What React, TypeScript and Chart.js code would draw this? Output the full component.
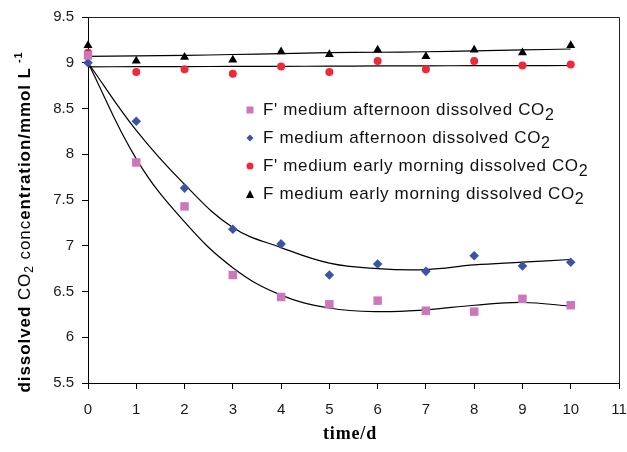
import React, { useEffect, useRef } from 'react';
import { Chart, registerables } from 'chart.js';

Chart.register(...registerables);

// ---- data ----
const days = [0, 1, 2, 3, 4, 5, 6, 7, 8, 9, 10];
const fPrimeAfternoon = [9.08, 7.91, 7.43, 6.68, 6.44, 6.36, 6.40, 6.29, 6.28, 6.42, 6.35];
const fAfternoon = [9.0, 8.36, 7.63, 7.18, 7.02, 6.68, 6.80, 6.72, 6.89, 6.78, 6.82];
const fPrimeMorning = [9.11, 8.90, 8.93, 8.88, 8.96, 8.90, 9.02, 8.93, 9.02, 8.97, 8.98];
const fMorning = [9.19, 9.02, 9.06, 9.03, 9.12, 9.09, 9.14, 9.07, 9.14, 9.11, 9.19];

const trendFPrimeAfternoon = [9.0, 7.95, 7.26, 6.76, 6.46, 6.32, 6.28, 6.30, 6.35, 6.38, 6.34];
const trendFAfternoon = [9.0, 8.26, 7.67, 7.2, 6.98, 6.81, 6.75, 6.74, 6.79, 6.82, 6.85];
const trendFPrimeMorning = [8.955, 8.957, 8.958, 8.96, 8.961, 8.963, 8.965, 8.966, 8.968, 8.969, 8.97];
const trendFMorning = [9.07, 9.075, 9.08, 9.09, 9.1, 9.11, 9.115, 9.12, 9.13, 9.14, 9.15];

const seriesLabels = [
  "F' medium afternoon dissolved CO2",
  'F medium afternoon dissolved CO2',
  "F' medium early morning dissolved CO2",
  'F medium early morning dissolved CO2',
];
const seriesColors = ['#CC77BB', '#3A55A8', '#F0283C', '#000000'];
const seriesShapes = ['square', 'diamond', 'circle', 'triangle'];

const xTitle = 'time/d';
const xMin = 0, xMax = 11, xStep = 1;
const yMin = 5.5, yMax = 9.5, yStep = 0.5;

const SANS = '"Liberation Sans", Arial, Helvetica, sans-serif';
const SERIF = '"Liberation Serif", "Times New Roman", serif';

function drawMarker(ctx: CanvasRenderingContext2D, shape: string, x: number, y: number, s: number, color: string) {
  ctx.fillStyle = color;
  ctx.beginPath();
  if (shape === 'square') {
    ctx.rect(x - s / 2, y - s / 2, s, s);
  } else if (shape === 'diamond') {
    ctx.moveTo(x, y - s / 2);
    ctx.lineTo(x + s / 2, y);
    ctx.lineTo(x, y + s / 2);
    ctx.lineTo(x - s / 2, y);
    ctx.closePath();
  } else if (shape === 'circle') {
    ctx.arc(x, y, s / 2, 0, Math.PI * 2);
  } else {
    ctx.moveTo(x, y - s / 2);
    ctx.lineTo(x + s / 2, y + s / 2);
    ctx.lineTo(x - s / 2, y + s / 2);
    ctx.closePath();
  }
  ctx.fill();
}

type Seg = { t: string; font: string; dy: number };

function segSpacing(ctx: any, segs: Seg[], target: number): number {
  ctx.letterSpacing = '0px';
  let total = 0;
  let chars = 0;
  for (const s of segs) {
    ctx.font = s.font;
    total += ctx.measureText(s.t).width;
    chars += s.t.length;
  }
  return (target - total) / chars;
}

function drawSegs(ctx: any, segs: Seg[], x: number, y: number, sp: number, align: 'left' | 'center') {
  let full = 0;
  for (const s of segs) {
    ctx.font = s.font;
    ctx.letterSpacing = sp.toFixed(2) + 'px';
    full += ctx.measureText(s.t).width;
  }
  let cx = align === 'center' ? x - full / 2 : x;
  ctx.textAlign = 'left';
  ctx.textBaseline = 'middle';
  for (const s of segs) {
    ctx.font = s.font;
    ctx.letterSpacing = sp.toFixed(2) + 'px';
    ctx.fillText(s.t, cx, y + s.dy);
    cx += ctx.measureText(s.t).width;
  }
  ctx.letterSpacing = '0px';
}

const overlay = {
  id: 'overlay',
  afterDraw(chart: any) {
    const ctx = chart.ctx as any;
    const { left, right, top, bottom } = chart.chartArea;
    ctx.save();
    // top + right frame
    ctx.strokeStyle = '#222';
    ctx.lineWidth = 1;
    ctx.beginPath();
    ctx.moveTo(Math.round(left) + 0.5, Math.round(top) + 0.5);
    ctx.lineTo(Math.round(right) + 0.5, Math.round(top) + 0.5);
    ctx.lineTo(Math.round(right) + 0.5, Math.round(bottom) + 0.5);
    ctx.stroke();

    // legend
    const lx = 250, tx = 263, ly0 = 110, lstep = 28;
    const mainFont = `17px ${SANS}`;
    const subFont = `16px ${SANS}`;
    const sp = segSpacing(ctx, [{ t: seriesLabels[0].slice(0, -1), font: mainFont, dy: 0 }], 282);
    seriesLabels.forEach((lab, i) => {
      const y = ly0 + i * lstep;
      drawMarker(ctx, seriesShapes[i], lx, y, seriesShapes[i] === 'triangle' ? 8 : 7, seriesColors[i]);
      ctx.fillStyle = '#111';
      const segs: Seg[] = [
        { t: lab.slice(0, -1), font: mainFont, dy: 0 },
        { t: lab.slice(-1), font: subFont, dy: 6 },
      ];
      drawSegs(ctx, segs, tx, y, sp, 'left');
    });

    // y title
    ctx.save();
    ctx.translate(25, 222);
    ctx.rotate(-Math.PI / 2);
    ctx.fillStyle = '#000';
    const ySegs: Seg[] = [
      { t: 'dissolved ', font: `bold 17px ${SANS}`, dy: 0 },
      { t: 'CO', font: `17px ${SANS}`, dy: 0 },
      { t: '2', font: `12px ${SANS}`, dy: 5 },
      { t: ' conc', font: `17px ${SANS}`, dy: 0 },
      { t: 'entration/mmol L', font: `bold 17px ${SANS}`, dy: 0 },
      { t: ' -1', font: `bold 11px ${SANS}`, dy: -6 },
    ];
    drawSegs(ctx, ySegs, 0, 0, segSpacing(ctx, ySegs, 341), 'center');
    ctx.restore();

    // x title
    ctx.fillStyle = '#000';
    const xSegs: Seg[] = [{ t: xTitle, font: `bold 18px ${SERIF}`, dy: 0 }];
    drawSegs(ctx, xSegs, 350, 434, segSpacing(ctx, xSegs, 54), 'center');
    ctx.restore();
  },
};

export default function App() {
  const ref = useRef<HTMLCanvasElement | null>(null);
  useEffect(() => {
    if (!ref.current) return;
    const pts = (arr: number[]) => days.map((d, i) => ({ x: d, y: arr[i] }));
    const pointSeries = [fPrimeAfternoon, fAfternoon, fPrimeMorning, fMorning];
    const trends = [trendFPrimeAfternoon, trendFAfternoon, trendFPrimeMorning, trendFMorning];
    const pointStyles: any[] = ['rect', 'rectRot', 'circle', 'triangle'];
    const radii = [6, 4.8, 4, 5.2];
    const datasets: any[] = [];
    trends.forEach((t, i) => {
      datasets.push({
        type: 'line',
        label: 'trend ' + i,
        data: pts(t),
        borderColor: '#000',
        borderWidth: 1.2,
        pointRadius: 0,
        tension: 0.4,
        fill: false,
        clip: false,
        order: 2,
      });
    });
    pointSeries.forEach((s, i) => {
      datasets.push({
        type: 'scatter',
        label: seriesLabels[i],
        data: pts(s),
        pointStyle: pointStyles[i],
        pointRadius: radii[i],
        pointBackgroundColor: seriesColors[i],
        pointBorderColor: seriesColors[i],
        pointBorderWidth: 0,
        showLine: false,
        clip: false,
        order: 1,
      });
    });
    const chart = new Chart(ref.current, {
      type: 'scatter',
      data: { datasets },
      options: {
        animation: false,
        responsive: false,
        layout: { padding: { left: 0, right: 8, top: 17, bottom: 29 } },
        plugins: { legend: { display: false }, tooltip: { enabled: false } },
        scales: {
          x: {
            type: 'linear',
            min: xMin,
            max: xMax,
            afterFit: (s: any) => { s.height = 40; s.paddingLeft = 0; s.paddingRight = 0; },
            ticks: { stepSize: xStep, color: '#1a1a1a', font: { size: 15, family: SANS }, padding: 12, callback: (v: any) => String(v) },
            grid: { drawOnChartArea: false, drawTicks: true, tickLength: 6, color: '#000' },
            border: { display: true, color: '#000', width: 1 },
          },
          y: {
            type: 'linear',
            min: yMin,
            max: yMax,
            afterFit: (s: any) => { s.width = 88; s.paddingTop = 0; s.paddingBottom = 0; },
            ticks: { stepSize: yStep, color: '#1a1a1a', font: { size: 15, family: SANS }, padding: 8, callback: (v: any) => String(Math.round(v * 10) / 10) },
            grid: { drawOnChartArea: false, drawTicks: true, tickLength: 6, color: '#000' },
            border: { display: true, color: '#000', width: 1 },
          },
        },
      } as any,
      plugins: [overlay],
    });
    return () => chart.destroy();
  }, []);
  return (
    <canvas
      ref={ref}
      width={627}
      height={452}
      style={{ position: 'fixed', left: 0, top: 0, width: 627, height: 452, display: 'block' }}
    />
  );
}
